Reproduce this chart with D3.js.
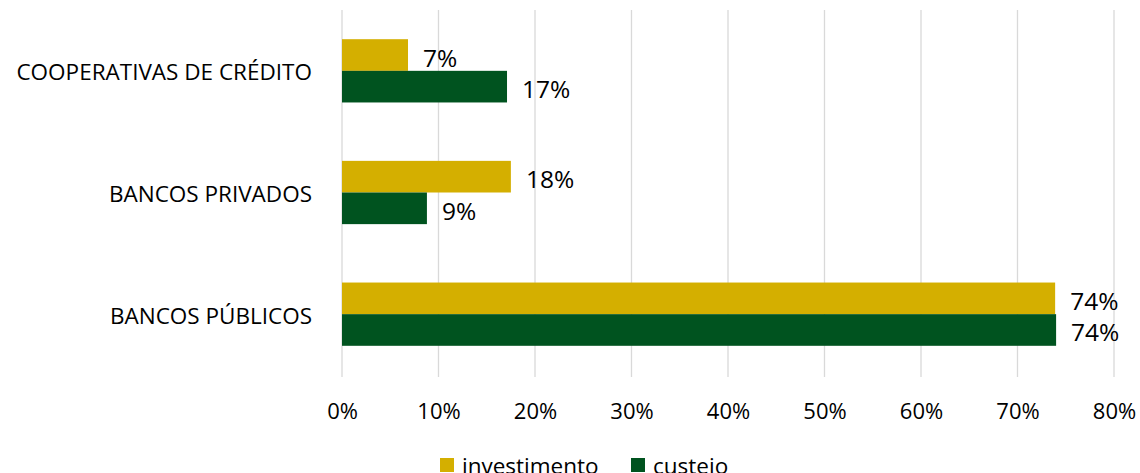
<!DOCTYPE html>
<html>
<head>
<meta charset="utf-8">
<script src="https://cdn.jsdelivr.net/npm/d3@7"></script>
<style>
  body { margin: 0; background: #fff; overflow: hidden; }
  text { font-family: "Open Sans", sans-serif; fill: #000; }
</style>
</head>
<body>
<div id="chart"></div>
<script>
/* CONSTANTS AND GLOBALS */
const width = 1140,
  height = 473,
  margin = { top: 10, bottom: 98, left: 342, right: 26 };

// data
const categories = ["COOPERATIVAS DE CRÉDITO", "BANCOS PRIVADOS", "BANCOS PÚBLICOS"];
const seriesNames = ["investimento", "custeio"];
const investimento = [6.84, 17.5, 73.9];
const custeio = [17.1, 8.8, 74.0];
const labelsInvestimento = ["7%", "18%", "74%"];
const labelsCusteio = ["17%", "9%", "74%"];
const xTicks = [0, 10, 20, 30, 40, 50, 60, 70, 80];
const colors = ["#D4AF00", "#00531F"];

const rows = categories.map((c, i) => ({
  category: c,
  values: [
    { key: "investimento", value: investimento[i], label: labelsInvestimento[i] },
    { key: "custeio", value: custeio[i], label: labelsCusteio[i] }
  ]
}));

//SCALES
const xScale = d3.scaleLinear()
  .domain([0, 80])
  .range([margin.left, width - margin.right]);

const yScale = d3.scaleBand()
  .domain(categories)
  .range([margin.top, height - margin.bottom])
  .paddingInner(0.48)
  .paddingOuter(0.24);

const inner = d3.scaleBand()
  .domain(seriesNames)
  .range([0, yScale.bandwidth()]);

const colorScale = d3.scaleOrdinal()
  .domain(seriesNames)
  .range(colors);

//SVG
const svg = d3.select("#chart")
  .append("svg")
  .attr("width", width)
  .attr("height", height);

// gridlines
svg.append("g")
  .selectAll("line")
  .data(xTicks)
  .join("line")
  .attr("x1", d => xScale(d))
  .attr("x2", d => xScale(d))
  .attr("y1", margin.top)
  .attr("y2", height - margin.bottom + 2)
  .attr("stroke", "#d9d9d9")
  .attr("stroke-width", 1.3);

// x axis labels
const xAxis = d3.axisBottom(xScale)
  .tickValues(xTicks)
  .tickFormat(d => d + "%")
  .tickSize(0);

svg.append("g")
  .attr("transform", `translate(0, ${height - margin.bottom})`)
  .call(xAxis)
  .call(g => g.select(".domain").remove())
  .call(g => g.selectAll("text")
    .attr("y", 36)
    .attr("dy", "0.35em")
    .attr("font-size", 22)
    .attr("font-family", "Open Sans, sans-serif")
    .attr("fill", "#000"));

// category labels
svg.append("g")
  .selectAll("text")
  .data(categories)
  .join("text")
  .attr("x", margin.left - 30)
  .attr("y", d => yScale(d) + yScale.bandwidth() / 2 + 1)
  .attr("text-anchor", "end")
  .attr("dominant-baseline", "central")
  .attr("font-size", 22.5)
  .text(d => d);

// bars
const groups = svg.append("g")
  .selectAll("g")
  .data(rows)
  .join("g")
  .attr("transform", d => `translate(0, ${yScale(d.category)})`);

groups.selectAll("rect")
  .data(d => d.values)
  .join("rect")
  .attr("x", xScale(0))
  .attr("y", d => inner(d.key))
  .attr("width", d => xScale(d.value) - xScale(0))
  .attr("height", inner.bandwidth())
  .attr("fill", d => colorScale(d.key));

groups.selectAll("text")
  .data(d => d.values)
  .join("text")
  .attr("x", d => xScale(d.value) + 15)
  .attr("y", d => inner(d.key) + inner.bandwidth() / 2 + 2)
  .attr("dominant-baseline", "central")
  .attr("font-size", 24.5)
  .text(d => d.label);

// legend
const legend = svg.append("g")
  .attr("transform", `translate(440, 464)`);

const legendX = [0, 191];
const items = legend.selectAll("g")
  .data(seriesNames)
  .join("g")
  .attr("transform", (d, i) => `translate(${legendX[i]}, 0)`);

items.append("rect")
  .attr("x", 0)
  .attr("y", -6)
  .attr("width", 14)
  .attr("height", 14)
  .attr("fill", d => colorScale(d));

items.append("text")
  .attr("x", 22)
  .attr("y", 1)
  .attr("dominant-baseline", "central")
  .attr("font-size", 22.5)
  .text(d => d);
</script>
</body>
</html>
